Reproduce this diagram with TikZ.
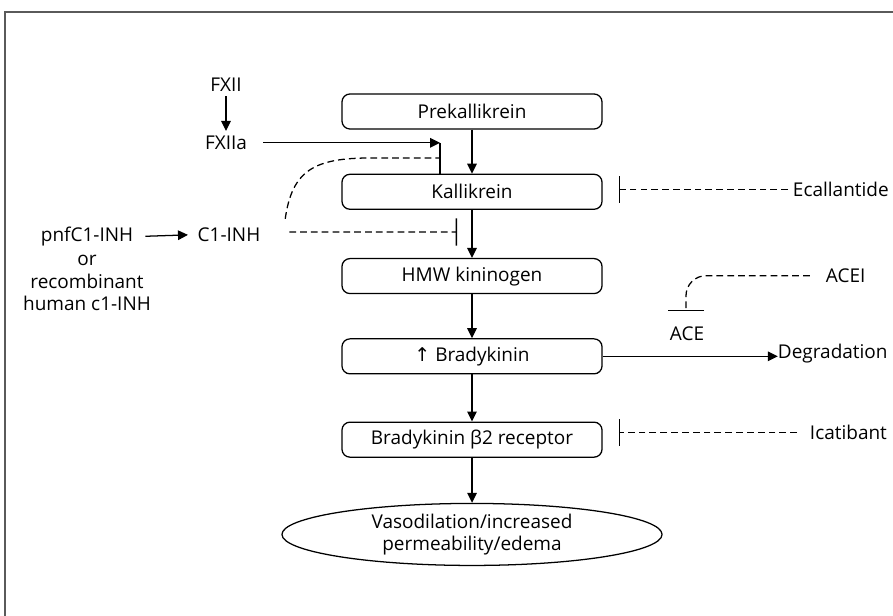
\documentclass[tikz,border=0pt]{standalone}
\usepackage{fontspec}
\setmainfont{Open Sans}
\newfontfamily\symfont{DejaVu Sans}
\usetikzlibrary{shapes.geometric, arrows.meta, positioning, calc}
\definecolor{framegray}{RGB}{90,90,90}

\begin{document}
\begin{tikzpicture}[
    x=0.025cm, y=-0.025cm,
    >={Triangle[length=0.25cm, width=0.24cm]},
    every node/.style={font=\fontsize{13.5}{16}\selectfont},
    pathbox/.style={rectangle, draw, line width=0.9pt, rounded corners=0.2cm,
        minimum width=6.5cm, minimum height=0.875cm, align=center},
    effectbox/.style={ellipse, draw, line width=0.9pt,
        minimum width=9.5cm, minimum height=1.55cm, inner sep=0pt, align=center},
    agent/.style={anchor=base},
    drug/.style={anchor=base west},
    arrow/.style={->, line width=0.9pt},
    dashedline/.style={line width=0.9pt, dash pattern=on 4.8pt off 2.9pt},
    inhib/.style={dashedline, -{Bar[width=0.68cm]}},
]
\useasboundingbox (0,0) rectangle (893,616);

% frame (cut at right and bottom)
\draw[framegray, line width=1.1pt] (5,616) |- (893,12);

% === MAIN CASCADE ===
\node[pathbox] (prek) at (472,111.5) {Prekallikrein};
\node[pathbox, below=1.1cm of prek] (kall) {Kallikrein};
\node[pathbox, below=1.2cm of kall] (hmw) {HMW kininogen};
\node[pathbox, below=1.1cm of hmw] (brady) {{\symfont ↑} Bradykinin};
\node[pathbox, below=1.175cm of brady] (receptor) {Bradykinin β2 receptor};
\node[effectbox, below=1.125cm of receptor] (effect) {Vasodilation/increased\\permeability/edema};

% === ACTIVATORS / INHIBITORS (left) ===
\node[agent] (fxii) at (226,91.5) {FXII};
\node[agent] (fxiia) at (226,149.5) {FXIIa};
\node[agent] (pnf) at (87,241.5) {pnfC1-INH};
\node[align=center] (pnfalt) at (87,283) {or\\recombinant\\human c1-INH};
\node[agent] (c1inh) at (229,241.5) {C1-INH};

% === DRUGS (right) ===
\node[drug] (ecal) at (788,196.5) {Ecallantide};
\node[drug] (acei) at (821,282.5) {ACEI};
\node[agent] (ace) at (687,340) {ACE};
\node[drug] (degr) at (773,358.5) {Degradation};
\node[drug] (icat) at (805,439.5) {Icatibant};

% tee points
\coordinate (fxiibar) at (440,145);
\coordinate (fxiimid) at (440,158);
\coordinate (c1tee) at (457,232);
\coordinate (ecaltee) at (619,190);
\coordinate (icattee) at (619,434);
\coordinate (acetee) at (686,311);

% === ARROWS ===
\draw[arrow] (prek) -- (kall);
\draw[arrow] (kall) -- (hmw);
\draw[arrow] (hmw) -- (brady);
\draw[arrow] (brady) -- (receptor);
\draw[arrow] (receptor) -- (effect);

\draw[arrow] (fxii) -- (fxiia);
\draw[arrow, shorten <=0.28cm] (fxiia.east) -- (fxiia.east -| fxiibar);
\draw[line width=0.9pt] (fxiia.east -| fxiibar) -- (fxiibar |- kall.north);
\draw[arrow, shorten <=0.18cm, shorten >=0.12cm] (pnf.east) -- (c1inh.west);

\draw[arrow, shorten >=-0.12cm] (brady.east) -- (brady.east -| degr.west);

% inhibitions
\draw[dashedline] ([xshift=0.5cm, yshift=0.1cm]c1inh.north east)
    .. controls (292,170) and (315,158) .. (370,158) -- (fxiimid);
\draw[inhib, shorten <=0.6cm] ([yshift=0.07cm]c1inh.east) -- (c1tee);
\draw[inhib] (ecal.west) -- (ecal.west -| ecaltee);
\draw[inhib, shorten <=0.2cm] (icat.west) -- (icat.west -| icattee);
\draw[dashedline, -{Bar[width=0.9cm]}, rounded corners=0.5cm, shorten <=0.28cm]
    (acei.west) -| (acetee);

\end{tikzpicture}
\end{document}
